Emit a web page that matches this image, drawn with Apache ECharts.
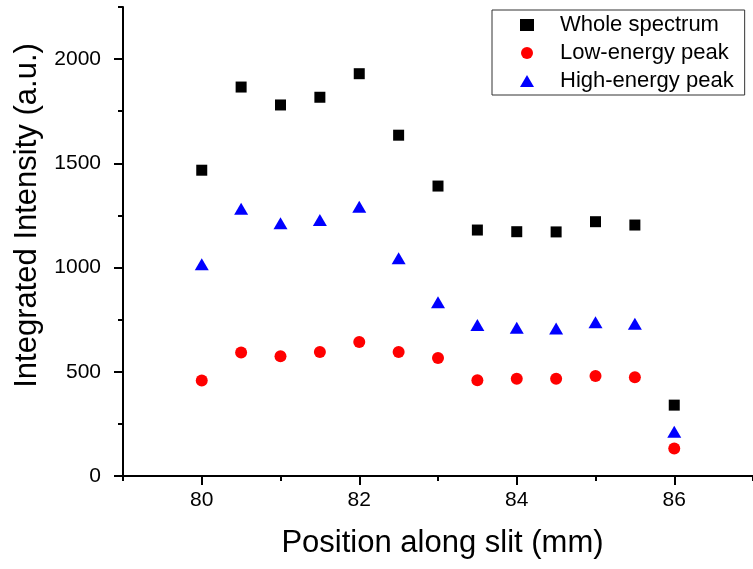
<!DOCTYPE html>
<html><head><meta charset="utf-8">
<script src="https://cdn.jsdelivr.net/npm/echarts@6/dist/echarts.min.js"></script>
<style>html,body{margin:0;padding:0;background:#fff}#c{width:753px;height:569px}</style>
</head><body><div id="c"></div>
<script>
const positions = [80, 80.5, 81, 81.5, 82, 82.5, 83, 83.5, 84, 84.5, 85, 85.5, 86];
const wholeSpectrum = [1467, 1866, 1780, 1817, 1930, 1635, 1391, 1180, 1172, 1171, 1220, 1204, 340];
const lowEnergyPeak = [458, 593, 574, 595, 643, 595, 566, 459, 466, 467, 480, 474, 132];
const highEnergyPeak = [1016, 1282, 1212, 1228, 1292, 1045, 834, 724, 711, 708, 738, 730, 212];
const seriesNames = ['Whole spectrum', 'Low-energy peak', 'High-energy peak'];
const xMajorTicks = [80, 82, 84, 86];
const xMinorTicks = [79, 81, 83, 85, 87];
const yMajorTicks = [0, 500, 1000, 1500, 2000];
const yMinorTicks = [250, 750, 1250, 1750, 2250];

const FONT = 'Liberation Sans, Arial, sans-serif';
const pair = arr => positions.map((p, i) => [p, arr[i]]);
const plain = v => String(v);
const chart = echarts.init(document.getElementById('c'), null, {renderer: 'canvas'});
const xBase = {type: 'value', min: 79, max: 87, splitLine: {show: false}, position: 'bottom'};
const yBase = {type: 'value', min: 0, max: 2250, splitLine: {show: false}, position: 'left'};
chart.setOption({
  animation: false,
  backgroundColor: '#fff',
  grid: {left: 123, top: 7, bottom: 93, right: -7, containLabel: false},
  xAxis: [
    Object.assign({}, xBase, {
      name: 'Position along slit (mm)', nameLocation: 'middle', nameGap: 52,
      nameTextStyle: {fontFamily: FONT, fontSize: 31, color: '#000', padding: [0, 0, 0, 9]},
      axisLine: {show: true, onZero: false, lineStyle: {color: '#000', width: 2}},
      axisTick: {show: true, inside: false, length: 9, lineStyle: {color: '#000', width: 2}, customValues: xMajorTicks},
      axisLabel: {show: true, margin: 14, fontFamily: FONT, fontSize: 21, color: '#000', customValues: xMajorTicks, formatter: plain}
    }),
    Object.assign({}, xBase, {
      axisLine: {show: false},
      axisTick: {show: true, inside: false, length: 5, lineStyle: {color: '#000', width: 2}, customValues: xMinorTicks},
      axisLabel: {show: false}
    })
  ],
  yAxis: [
    Object.assign({}, yBase, {
      name: 'Integrated Intensity (a.u.)', nameLocation: 'middle', nameGap: 80,
      nameTextStyle: {fontFamily: FONT, fontSize: 31, color: '#000', padding: [0, 0, 0, 52]},
      axisLine: {show: true, onZero: false, lineStyle: {color: '#000', width: 2}},
      axisTick: {show: true, inside: false, length: 9, lineStyle: {color: '#000', width: 2}, customValues: yMajorTicks},
      axisLabel: {show: true, margin: 22, fontFamily: FONT, fontSize: 21, color: '#000', customValues: yMajorTicks, formatter: plain}
    }),
    Object.assign({}, yBase, {
      axisLine: {show: false},
      axisTick: {show: true, inside: false, length: 5, lineStyle: {color: '#000', width: 2}, customValues: yMinorTicks},
      axisLabel: {show: false}
    })
  ],
  legend: {
    orient: 'vertical', left: 492, top: 10,
    padding: [4, 11, 3, 28],
    borderColor: '#333', borderWidth: 1,
    itemWidth: 14, itemHeight: 12, itemGap: 6,
    textStyle: {fontFamily: FONT, fontSize: 22, color: '#000', lineHeight: 22, padding: [0, 0, 0, 21]},
    data: seriesNames
  },
  series: [
    {name: seriesNames[0], type: 'scatter', symbol: 'rect', symbolSize: 11, itemStyle: {color: '#000', opacity: 1}, data: pair(wholeSpectrum)},
    {name: seriesNames[1], type: 'scatter', symbol: 'circle', symbolSize: 12, itemStyle: {color: '#ff0000', opacity: 1}, data: pair(lowEnergyPeak)},
    {name: seriesNames[2], type: 'scatter', symbol: 'triangle', symbolSize: [14, 12], itemStyle: {color: '#0000ff', opacity: 1}, data: pair(highEnergyPeak)}
  ]
});
</script></body></html>
